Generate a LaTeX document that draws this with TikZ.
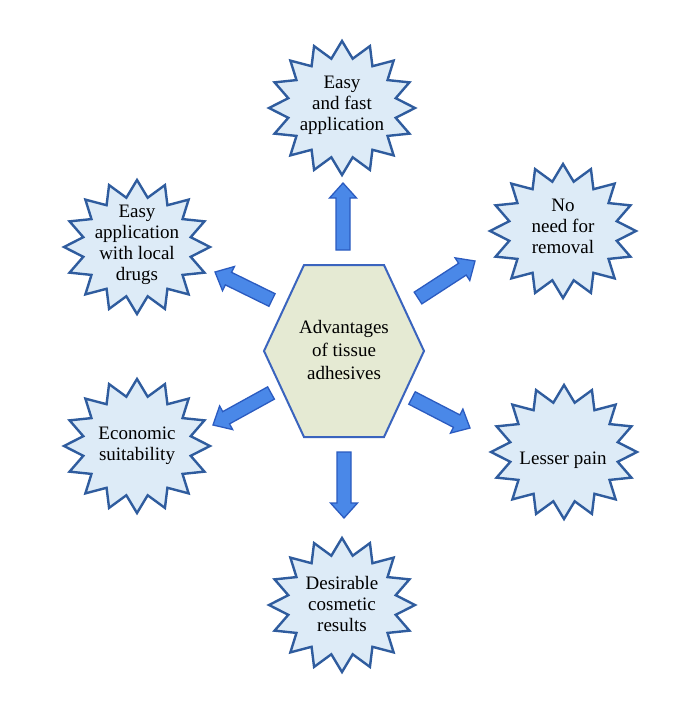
\documentclass[tikz,border=0pt]{standalone}
\usepackage{fontspec}
\setmainfont{Liberation Serif}
\usetikzlibrary{calc}
\definecolor{starfill}{HTML}{DDEBF7}
\definecolor{starline}{HTML}{2F5C9E}
\definecolor{hexfill}{HTML}{E5EAD3}
\definecolor{hexline}{HTML}{3A64BE}
\definecolor{arrfill}{HTML}{4A88E8}
\definecolor{arrline}{HTML}{2B5BC0}
\tikzset{
 starst/.style={draw=starline, fill=starfill, line width=2.4pt, line join=miter},
 hexst/.style={draw=hexline, fill=hexfill, line width=2pt, line join=miter},
 arrst/.style={draw=arrline, fill=arrfill, line width=1.3pt, line join=miter},
 lbl/.style={align=center, font=\fontsize{19}{21}\selectfont, inner sep=0pt},
}
\newcommand\starat[3]{%
 \coordinate (#1) at (#2,#3);
 \draw[starst] plot[samples at={0,...,31}, variable=\k] ({#2+73*(1-0.25*mod(\k,2))*cos(\k*11.25-90)}, {#3+67*(1-0.25*mod(\k,2))*sin(\k*11.25-90)}) -- cycle;
}
\newcommand\blockarrow[2]{%
 \coordinate (hb) at ($(#2)!15pt!(#1)$);
 \draw[arrst] ($(#1)!7pt!90:(#2)$) -- ($(hb)!7pt!90:(#2)$) -- ($(hb)!13.5pt!90:(#2)$) -- (#2) -- ($(hb)!13.5pt!-90:(#2)$) -- ($(hb)!7pt!-90:(#2)$) -- ($(#1)!7pt!-90:(#2)$) -- cycle;
}
\begin{document}
\begin{tikzpicture}[x=1pt,y=-1pt]
\useasboundingbox (0,0) rectangle (698,706);
\fill[white] (0,0) rectangle (698,706);
% stars
\starat{sT}{342}{108}
\starat{sUL}{137}{247}
\starat{sUR}{563}{231}
\starat{sLL}{137}{446}
\starat{sLR}{564}{452}
\starat{sB}{342}{605}
% hexagon
\draw[hexst] (304,265) -- (384,265) -- (424,351) -- (384,437) -- (304,437) -- (264,351) -- cycle;
\node[lbl, font=\fontsize{19}{23}\selectfont] (hex) at (344,350) {Advantages\\of tissue\\adhesives};
% labels
\node[lbl] (tT) at (342,105) {Easy\\and fast\\application};
\node[lbl] (tUL) at (137,245) {Easy\\application\\with local\\drugs};
\node[lbl] (tUR) at (563,226) {No\\need for\\removal};
\node[lbl] (tLL) at (137,446) {Economic\\suitability};
\node[lbl] (tLR) at (563,460) {Lesser pain};
\node[lbl] (tB) at (342,604) {Desirable\\cosmetic\\results};
% arrow ends
\coordinate (aT1) at (343,250); \coordinate (aT2) at (343,183);
\coordinate (aB1) at (344,452); \coordinate (aB2) at (344,518);
\coordinate (aUR1) at (418,298); \coordinate (aUR2) at (475,261);
\coordinate (aLR1) at (412,398); \coordinate (aLR2) at (470,428);
\coordinate (aUL1) at (272,300); \coordinate (aUL2) at (215,272);
\coordinate (aLL1) at (271,393); \coordinate (aLL2) at (213,425);
\blockarrow{aT1}{aT2}
\blockarrow{aB1}{aB2}
\blockarrow{aUR1}{aUR2}
\blockarrow{aLR1}{aLR2}
\blockarrow{aUL1}{aUL2}
\blockarrow{aLL1}{aLL2}
\end{tikzpicture}
\end{document}
